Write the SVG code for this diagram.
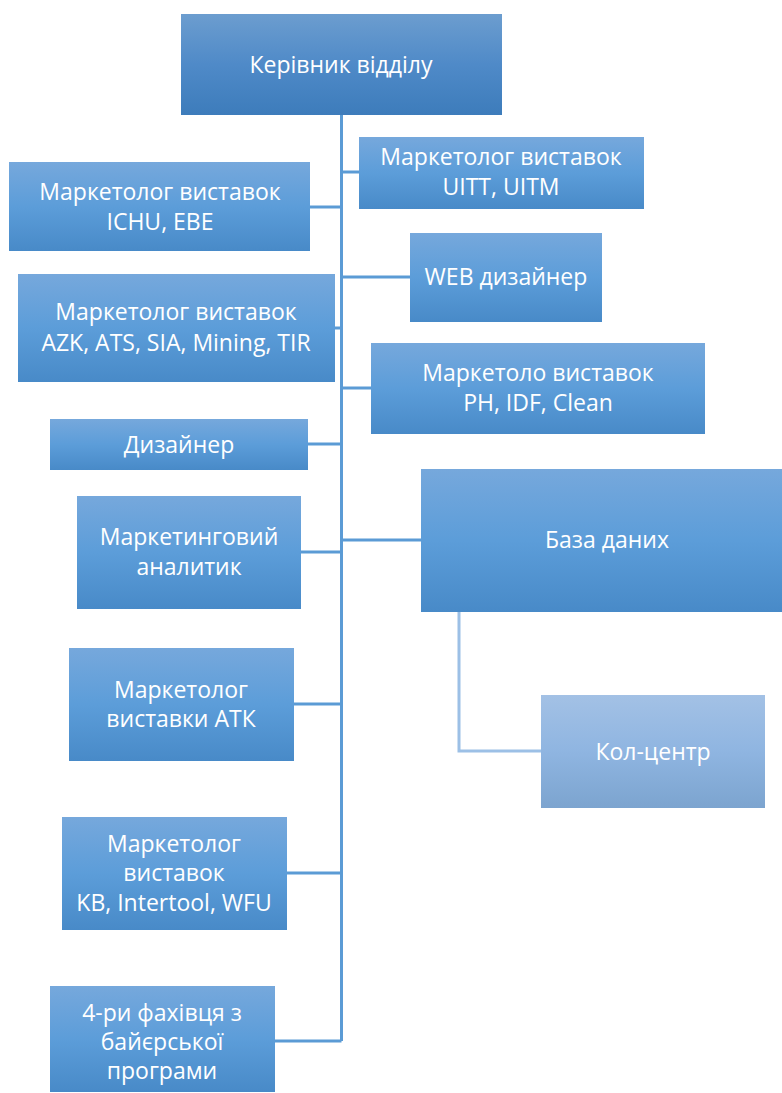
<svg xmlns="http://www.w3.org/2000/svg" width="782" height="1093" viewBox="0 0 782 1093">
<defs>
<linearGradient id="g0" x1="0" y1="0" x2="0" y2="1"><stop offset="0" stop-color="#6c9dcf"/><stop offset="0.5" stop-color="#4f8ac8"/><stop offset="1" stop-color="#3d7cbb"/></linearGradient>
<linearGradient id="g1" x1="0" y1="0" x2="0" y2="1"><stop offset="0" stop-color="#76a8dc"/><stop offset="0.5" stop-color="#5c9dd9"/><stop offset="1" stop-color="#488ac8"/></linearGradient>
<linearGradient id="g2" x1="0" y1="0" x2="0" y2="1"><stop offset="0" stop-color="#a3c1e5"/><stop offset="0.5" stop-color="#8fb5e1"/><stop offset="1" stop-color="#7ca4cf"/></linearGradient>
<style>
.n rect{fill:url(#g1)}
#n0 rect{fill:url(#g0)}
#n13 rect{fill:url(#g2)}
text{font-family:"Open Sans","Noto Sans","DejaVu Sans",sans-serif;font-size:23px;fill:#ffffff;text-anchor:middle}
.c{stroke:#5b9bd5;stroke-width:3;fill:none}
.c2{stroke:#9cc0e6;stroke-width:3;fill:none}
</style>
</defs>
<g id="connectors">
<path class="c" d="M341.5 115V1041"/>
<path class="c" d="M341.5 172H359"/>
<path class="c" d="M341.5 207H310"/>
<path class="c" d="M341.5 277H410"/>
<path class="c" d="M341.5 328H334"/>
<path class="c" d="M341.5 388H371"/>
<path class="c" d="M341.5 444H308"/>
<path class="c" d="M341.5 540H421"/>
<path class="c" d="M341.5 552H301"/>
<path class="c" d="M341.5 704H293"/>
<path class="c" d="M341.5 873H286"/>
<path class="c" d="M341.5 1041H274"/>
<path class="c2" d="M459 612V751H541"/>
</g>
<g id="n0" class="n"><rect x="181" y="14" width="321" height="101"/><text x="341" y="73">Керівник відділу</text></g>
<g id="n1" class="n"><rect x="359" y="137" width="285" height="72"/><text x="501" y="165">Маркетолог виставок</text><text x="501" y="195">UITT, UITM</text></g>
<g id="n2" class="n"><rect x="9" y="162" width="301" height="89"/><text x="160" y="200">Маркетолог виставок</text><text x="160" y="230">ICHU, EBE</text></g>
<g id="n3" class="n"><rect x="410" y="233" width="192" height="89"/><text x="506" y="285">WEB дизайнер</text></g>
<g id="n4" class="n"><rect x="18" y="274" width="317" height="108"/><text x="176" y="320">Маркетолог виставок</text><text x="176" y="351">AZK, ATS, SIA, Mining, TIR</text></g>
<g id="n5" class="n"><rect x="371" y="343" width="334" height="91"/><text x="538" y="381">Маркетоло виставок</text><text x="538" y="411">PH, IDF, Clean</text></g>
<g id="n6" class="n"><rect x="50" y="419" width="258" height="51"/><text x="179" y="453">Дизайнер</text></g>
<g id="n7" class="n"><rect x="421" y="469" width="361" height="143"/><text x="607" y="548">База даних</text></g>
<g id="n8" class="n"><rect x="77" y="496" width="224" height="113"/><text x="189" y="545">Маркетинговий</text><text x="189" y="575">аналитик</text></g>
<g id="n9" class="n"><rect x="69" y="648" width="225" height="113"/><text x="181" y="698">Маркетолог</text><text x="181" y="727">виставки АТК</text></g>
<g id="n13" class="n"><rect x="541" y="695" width="224" height="113"/><text x="653" y="760">Кол-центр</text></g>
<g id="n10" class="n"><rect x="62" y="817" width="225" height="113"/><text x="174" y="852">Маркетолог</text><text x="174" y="881">виставок</text><text x="174" y="911">KB, Intertool, WFU</text></g>
<g id="n11" class="n"><rect x="50" y="986" width="225" height="106"/><text x="162" y="1021">4-ри фахівця з</text><text x="162" y="1050">байєрської</text><text x="162" y="1079">програми</text></g>
</svg>
